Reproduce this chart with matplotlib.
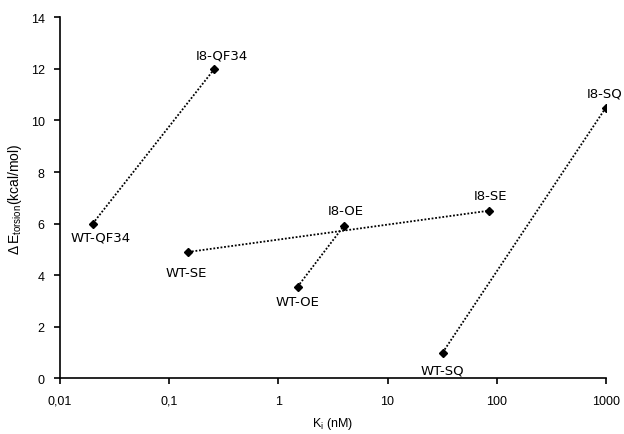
import numpy as np
import matplotlib
matplotlib.use("Agg")
import matplotlib.pyplot as plt
from matplotlib.ticker import FixedLocator, NullLocator

plt.rcParams['font.family'] = ['Liberation Sans', 'DejaVu Sans']
plt.rcParams['mathtext.fontset'] = 'custom'
plt.rcParams['mathtext.rm'] = 'Liberation Sans'
plt.rcParams['mathtext.it'] = 'Liberation Sans'

# data: each system has a WT and an I8 point, joined by a dotted line
systems = ["QF34", "SE", "OE", "SQ"]
wt_ki = [0.02, 0.15, 1.5, 32]
wt_e = [6.0, 4.9, 3.55, 1.0]
i8_ki = [0.26, 85, 4.0, 1000]
i8_e = [12.0, 6.5, 5.92, 10.5]

# label offsets in pixels (dx, dy), dy positive = downward
wt_off = [(8, 13), (-2, 21), (0, 15), (0, 17)]
i8_off = [(7, -14), (2, -15), (2, -15), (-1, -15)]

xticks = [0.01, 0.1, 1, 10, 100, 1000]
xticklabels = ["0,01", "0,1", "1", "10", "100", "1000"]
yticks = list(range(0, 15, 2))

fig = plt.figure(figsize=(6.24, 4.35), dpi=100)
ax = fig.add_axes([0.096, 0.128, 0.875, 0.830])

for i, name in enumerate(systems):
    ax.plot([wt_ki[i], i8_ki[i]], [wt_e[i], i8_e[i]], color="black",
            linestyle=(0, (1, 1)), linewidth=1.3, marker="D", markersize=4,
            markerfacecolor="black", markeredgecolor="black")
    dx, dy = wt_off[i]
    ax.annotate("WT-" + name, (wt_ki[i], wt_e[i]), xytext=(dx * 0.72, -dy * 0.72),
                textcoords="offset points", ha="center", va="center",
                fontsize=9.5, family=["DejaVu Sans"])
    dx, dy = i8_off[i]
    ax.annotate("I8-" + name, (i8_ki[i], i8_e[i]), xytext=(dx * 0.72, -dy * 0.72),
                textcoords="offset points", ha="center", va="center",
                fontsize=9.5, family=["DejaVu Sans"])

ax.set_xscale("log")
ax.set_xlim(0.01, 1000)
ax.set_ylim(0, 14)
ax.xaxis.set_major_locator(FixedLocator(xticks))
ax.xaxis.set_minor_locator(NullLocator())
ax.set_xticklabels(xticklabels)
ax.set_yticks(yticks)

for s in ["top", "right"]:
    ax.spines[s].set_visible(False)
for s in ["left", "bottom"]:
    ax.spines[s].set_linewidth(1.2)
    ax.spines[s].set_color("black")
ax.tick_params(direction="out", length=4, width=1.2, labelsize=9)
ax.tick_params(axis="y", pad=7)
ax.tick_params(axis="x", pad=8)

ax.set_xlabel(r"K$_\mathregular{i}$ (nM)", fontsize=9, labelpad=6)
ax.set_ylabel(r"$\Delta\,$E$_\mathregular{torsion}$(kcal/mol)", fontsize=10, labelpad=5)

fig.savefig("out.png", dpi=100)
